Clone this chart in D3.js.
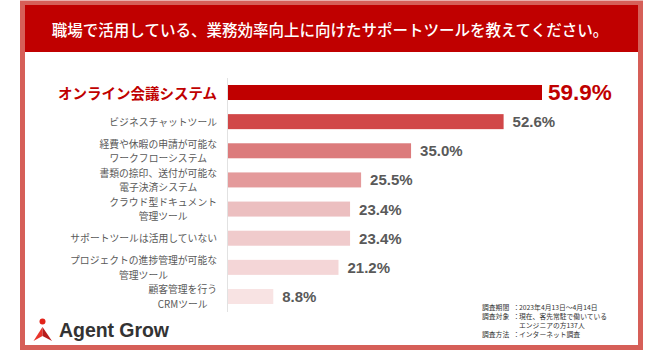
<!DOCTYPE html>
<html><head><meta charset="utf-8">
<script src="https://cdn.jsdelivr.net/npm/d3@7"></script>
<style>
html,body{margin:0;padding:0;background:#fff;}
svg{display:block;}
</style></head>
<body>
<svg id="c" width="650" height="356"></svg>
<script>
const title = "職場で活用している、業務効率向上に向けたサポートツールを教えてください。";
const categories = [
  "オンライン会議システム",
  "ビジネスチャットツール",
  "経費や休暇の申請が可能な\nワークフローシステム",
  "書類の捺印、送付が可能な\n電子決済システム",
  "クラウド型ドキュメント\n管理ツール",
  "サポートツールは活用していない",
  "プロジェクトの進捗管理が可能な\n管理ツール",
  "顧客管理を行う\nCRMツール"
];
const values = [59.9, 52.6, 35.0, 25.5, 23.4, 23.4, 21.2, 8.8];
const barColors = ["#c00000", "#d14748", "#dc7b7c", "#e49a9b", "#ecbfc0", "#f0cbcc", "#f4d6d7", "#f8e3e3"];
const notes = [
  ["調査期間", "2023年4月13日～4月14日"],
  ["調査対象", "現在、客先常駐で働いている"],
  ["", "エンジニアの方137人"],
  ["調査方法", "インターネット調査"]
];
const brand = "Agent Grow";

const svg = d3.select("#c");
const JP = "'Noto Sans CJK JP','Noto Sans',sans-serif";
const LAT = "'Liberation Sans',Arial,sans-serif";

// frame
svg.append("rect").attr("x", 22.5).attr("y", 3).attr("width", 618).attr("height", 344.5)
  .attr("fill", "#fff").attr("stroke", "#d65f58").attr("stroke-width", 5);
svg.append("rect").attr("x", 25).attr("y", 5).attr("width", 613).attr("height", 47).attr("fill", "#c00000");
svg.append("text").attr("x", 330).attr("y", 29).attr("text-anchor", "middle").attr("dominant-baseline", "central")
  .attr("fill", "#fff").attr("font-family", JP).attr("font-size", 15.5).attr("font-weight", 500).text(title);

// scales
const x = d3.scaleLinear().domain([0, 59.9]).range([227, 542]);
const y = d3.scaleBand().domain(categories).range([78, 311]).paddingInner(0.485).paddingOuter(0.24);

// axis line
svg.append("line").attr("x1", 227.5).attr("x2", 227.5).attr("y1", 78).attr("y2", 312)
  .attr("stroke", "#e2e2e2").attr("stroke-width", 1);

// bars
svg.selectAll("rect.bar").data(categories).enter().append("rect").attr("class", "bar")
  .attr("x", x(0) + 1).attr("y", d => y(d)).attr("height", y.bandwidth())
  .attr("width", (d, i) => x(values[i]) - x(0) - 1).attr("fill", (d, i) => barColors[i]);

// value labels
svg.selectAll("text.val").data(categories).enter().append("text").attr("class", "val")
  .attr("x", (d, i) => x(values[i]) + (i === 0 ? 6 : 9))
  .attr("y", d => y(d) + y.bandwidth() / 2)
  .attr("dominant-baseline", "central")
  .attr("font-family", LAT).attr("font-weight", "bold")
  .attr("font-size", (d, i) => i === 0 ? 22.5 : 15)
  .attr("fill", (d, i) => i === 0 ? "#c00000" : "#595959")
  .text((d, i) => values[i].toFixed(1) + "%");

// category labels (block right-aligned, lines centred)
const rightEdge = 217;
const lineGap = 14.3;
categories.forEach((c, i) => {
  const lines = c.split("\n");
  const cy = y(c) + y.bandwidth() / 2;
  const first = i === 0;
  const t = svg.append("text")
    .attr("font-family", JP)
    .attr("font-size", first ? 14.5 : 9.8)
    .attr("font-weight", first ? 700 : 400)
    .attr("fill", first ? "#c00000" : "#595959")
    .attr("text-anchor", "middle")
    .attr("dominant-baseline", "central");
  const ts = lines.map((ln, k) => t.append("tspan")
    .attr("y", cy + (k - (lines.length - 1) / 2) * lineGap)
    .text(ln));
  const w = d3.max(ts, s => s.node().getComputedTextLength());
  ts.forEach(s => s.attr("x", rightEdge - w / 2));
});

// notes
notes.forEach((n, i) => {
  const yy = 307 + i * 9;
  const t = svg.append("text").attr("y", yy).attr("dominant-baseline", "central")
    .attr("font-family", JP).attr("font-size", 6.8).attr("fill", "#333");
  if (n[0]) {
    t.append("tspan").attr("x", 482).text(n[0]);
    t.append("tspan").attr("x", 513).text("：");
  }
  t.append("tspan").attr("x", 519).text(n[1]);
});

// logo
const lg = svg.append("g");
lg.append("circle").attr("cx", 42.5).attr("cy", 321.5).attr("r", 3).attr("fill", "#e2231a");
lg.append("path").attr("d", "M42.5,327 L33.5,341 L42.5,336 Z").attr("fill", "#e8342b");
lg.append("path").attr("d", "M42.5,327 L52,341 L42.5,336 Z").attr("fill", "#b71c1c");
svg.append("text").attr("x", 59).attr("y", 337).attr("font-family", LAT).attr("font-weight", "bold")
  .attr("font-size", 19.5).attr("textLength", 110).attr("lengthAdjust", "spacing")
  .attr("fill", "#333").text(brand);
</script>
</body></html>
